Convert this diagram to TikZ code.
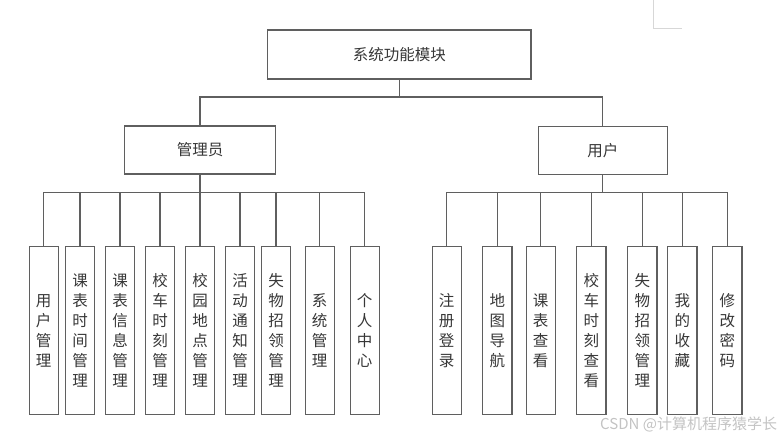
\documentclass[tikz,border=0pt]{standalone}
\usepackage{fontspec}
\setmainfont{Noto Sans CJK SC}
\definecolor{linec}{RGB}{95,95,95}
\definecolor{textc}{RGB}{55,55,55}
\definecolor{cornerc}{RGB}{215,215,215}
\definecolor{wmc}{RGB}{195,195,195}
\begin{document}
\begin{tikzpicture}[x=1pt,y=-1pt,
  box/.style={draw=linec, line width=1.1pt, fill=white, inner sep=0pt, text=textc,
    font=\fontsize{15.5}{20}\selectfont},
  leaf/.style={box, minimum width=29.3pt, minimum height=167.6pt, align=center},
  conn/.style={draw=linec, line width=1.1pt}]
\useasboundingbox (0,0) rectangle (778,438);

% corner mark
\draw[cornerc, line width=0.8pt] (653.3,0) -- (653.3,28.3) -- (681.7,28.3);

% top levels
\node[box, minimum width=263.3pt, minimum height=49pt] (root) at (399.3,54.5) {系统功能模块};
\node[box, minimum width=151.4pt, minimum height=48pt] (adm) at (200,150) {管理员};
\node[box, minimum width=129pt, minimum height=47.6pt] (usr) at (602.8,150.5) {用户};

\draw[conn] (root.south) -- ++(0,17.5) -| (adm.north);
\draw[conn] (root.south) -- ++(0,17.5) -| (usr.north);

% admin leaves
\node[leaf] (a1) at (43.7,330.5) {用\\户\\管\\理};
\node[leaf] (a2) at (80,330.5) {课\\表\\时\\间\\管\\理};
\node[leaf] (a3) at (120,330.5) {课\\表\\信\\息\\管\\理};
\node[leaf] (a4) at (160,330.5) {校\\车\\时\\刻\\管\\理};
\node[leaf] (a5) at (200,330.5) {校\\园\\地\\点\\管\\理};
\node[leaf] (a6) at (240,330.5) {活\\动\\通\\知\\管\\理};
\node[leaf] (a7) at (276,330.5) {失\\物\\招\\领\\管\\理};
\node[leaf] (a8) at (319.7,330.5) {系\\统\\管\\理};
\node[leaf] (a9) at (364.7,330.5) {个\\人\\中\\心};

% user leaves
\node[leaf] (u1) at (446.7,330.5) {注\\册\\登\\录};
\node[leaf] (u2) at (497.3,330.5) {地\\图\\导\\航};
\node[leaf] (u3) at (540.7,330.5) {课\\表\\查\\看};
\node[leaf] (u4) at (591.3,330.5) {校\\车\\时\\刻\\查\\看};
\node[leaf] (u5) at (642.3,330.5) {失\\物\\招\\领\\管\\理};
\node[leaf] (u6) at (682.3,330.5) {我\\的\\收\\藏};
\node[leaf] (u7) at (727.3,330.5) {修\\改\\密\\码};

\foreach \n in {a1,a2,a3,a4,a5,a6,a7,a8,a9}
  \draw[conn] (adm.south) -- ++(0,18) -| (\n.north);
\foreach \n in {u1,u2,u3,u4,u5,u6,u7}
  \draw[conn] (usr.south) -- ++(0,18) -| (\n.north);

% watermark
\node[anchor=west, inner sep=0pt, text=wmc, font=\fontsize{15}{15}\selectfont] (wm) at (600,424) {CSDN @计算机程序猿学长};
\end{tikzpicture}
\end{document}
